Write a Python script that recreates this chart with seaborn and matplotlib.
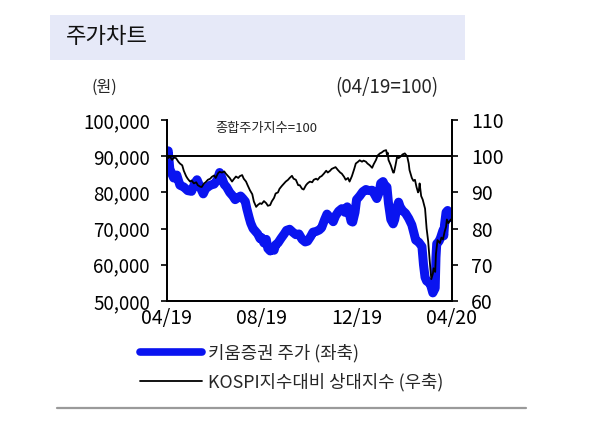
import numpy as np
import pandas as pd
import matplotlib
matplotlib.use("Agg")
import matplotlib.pyplot as plt
import matplotlib.dates as mdates
from matplotlib.lines import Line2D
from matplotlib.patches import Rectangle
import seaborn as sns

# ---------------- data ----------------
start_date = "2019-04-19"
# Kiwoom Securities share price (won) -- day offsets from start_date
kiwoom_days = [0, 2, 4, 9, 13, 17, 22, 27, 32, 36, 39, 43, 47, 50, 56, 61, 65, 68, 71, 74,
               77, 81, 85, 88, 92, 95, 98, 101, 103, 106, 108, 111, 113, 117, 120, 122, 125,
               128, 130, 133, 135, 138, 140, 143, 147, 151, 154, 158, 162, 166, 170, 174,
               178, 181, 185, 188, 192, 196, 199, 203, 206, 210, 214, 217, 221, 225, 229,
               232, 234, 237, 239, 242, 244, 248, 252, 256, 260, 264, 267, 270, 273, 275,
               278, 280, 283, 285, 288, 291, 293, 296, 298, 300, 303, 307, 311, 315, 318,
               320, 324, 328, 330, 332, 334, 337, 339, 342, 345, 346, 347, 350, 352, 355,
               356, 357, 359, 361, 364, 366]
kiwoom_price = [90500, 91500, 86500, 84000, 84800, 82000, 81500, 80500, 80300, 82500, 83500,
                81500, 79600, 81000, 82000, 82300, 83500, 85500, 84000, 82200, 81500, 80000,
                79000, 78000, 78600, 79000, 78300, 77500, 75500, 73000, 71500, 70000, 69500,
                68500, 67200, 67500, 66000, 67000, 64500, 63800, 64500, 64000, 65500, 66000,
                67300, 68500, 69500, 69800, 69000, 68300, 68500, 67000, 66300, 66500, 67800,
                69000, 69200, 69600, 70200, 72500, 74000, 73000, 71900, 73500, 74800, 75500,
                74500, 76000, 74800, 72000, 71800, 74500, 78000, 79000, 80200, 80800, 80500,
                80600, 79500, 78300, 80000, 82500, 83000, 82000, 81500, 77000, 72500, 71300,
                72500, 76000, 77300, 76000, 75000, 74200, 72800, 71000, 68500, 66800, 66200,
                65000, 60000, 56500, 55500, 55000, 54500, 52200, 53500, 62000, 65800, 66500,
                67500, 69500, 68000, 71000, 74500, 75000, 74000, 73000]

# Relative index vs KOSPI (04/19 = 100)
rel_days = [0, 2, 4, 7, 9, 12, 15, 17, 20, 22, 25, 27, 30, 32, 35, 38, 40, 43, 45, 48, 50,
            53, 56, 58, 61, 63, 66, 68, 71, 74, 76, 79, 81, 84, 86, 89, 92, 94, 97, 99, 102,
            104, 107, 110, 112, 115, 117, 120, 122, 125, 128, 130, 133, 135, 138, 140, 143,
            145, 148, 151, 153, 156, 158, 161, 163, 166, 169, 171, 174, 176, 179, 181, 184,
            187, 189, 192, 194, 197, 199, 202, 205, 207, 210, 212, 215, 217, 220, 223, 225,
            228, 230, 233, 235, 238, 241, 243, 246, 248, 251, 253, 256, 258, 261, 264, 266,
            269, 271, 274, 276, 279, 282, 283, 284, 285, 288, 291, 292, 294, 296, 298, 301,
            303, 306, 309, 311, 312, 315, 317, 319, 321, 323, 324, 325, 327, 329, 332, 334,
            336, 338, 340, 342, 343, 345, 346, 348, 351, 353, 355, 357, 359, 360, 362, 365]
rel_index = [100.8, 99.5, 100.0, 99.0, 99.6, 99.5, 98.5, 98.0, 97.5, 96.0, 94.5, 93.8, 93.0,
             93.3, 92.5, 92.8, 92.0, 91.6, 91.5, 92.5, 92.8, 93.5, 93.8, 94.3, 94.7, 94.0,
             95.3, 95.7, 95.5, 95.8, 95.2, 94.5, 94.0, 93.0, 93.6, 94.4, 94.0, 94.5, 94.8,
             93.8, 93.0, 92.0, 90.6, 89.5, 87.5, 86.0, 86.5, 87.0, 86.8, 87.6, 87.0, 86.3,
             86.5, 87.5, 88.5, 89.7, 90.0, 91.0, 91.8, 92.5, 93.0, 93.5, 94.0, 94.6, 93.8,
             93.5, 92.0, 92.0, 91.0, 90.8, 92.0, 92.5, 93.0, 92.8, 93.5, 93.8, 93.5, 94.3,
             94.5, 95.2, 96.0, 95.5, 96.0, 96.5, 96.8, 97.0, 96.2, 95.5, 95.2, 94.3, 93.5,
             94.0, 93.0, 94.5, 96.5, 98.0, 98.5, 98.9, 98.5, 98.8, 98.5, 98.0, 97.5, 96.8,
             97.8, 99.0, 100.2, 100.8, 101.0, 101.5, 101.7, 100.5, 101.0, 99.0, 97.5, 95.5,
             95.5, 97.5, 99.8, 99.5, 100.0, 100.5, 100.8, 100.0, 98.0, 96.2, 94.0, 93.2,
             93.5, 91.5, 90.0, 90.5, 92.5, 89.0, 88.0, 85.5, 80.0, 76.5, 71.0, 66.0, 67.5,
             69.0, 68.0, 73.0, 76.8, 76.0, 77.5, 77.0, 79.0, 80.5, 82.5, 81.5, 82.5]

left_ticks = [50000, 60000, 70000, 80000, 90000, 100000]
right_ticks = [60, 70, 80, 90, 100, 110]
x_tick_dates = ["2019-04-19", "2019-08-19", "2019-12-19", "2020-04-19"]
base_level = 100

title_text = "주가차트"
left_unit = "(원)"
right_unit = "(04/19=100)"
base_note = "종합주가지수=100"
label_kiwoom = "키움증권 주가 (좌축)"
label_rel = "KOSPI지수대비 상대지수 (우축)"

# ---------------- frames ----------------
t0 = pd.Timestamp(start_date)
df_k = pd.DataFrame({"date": t0 + pd.to_timedelta(kiwoom_days, unit="D"),
                     "price": kiwoom_price})
df_r = pd.DataFrame({"date": t0 + pd.to_timedelta(rel_days, unit="D"),
                     "rel": rel_index})

# ---------------- style ----------------
sns.set_theme(style="white")
plt.rcParams["font.family"] = ["Noto Sans CJK KR", "DejaVu Sans"]
plt.rcParams["axes.unicode_minus"] = False

BLUE = "#0A14F0"
fig = plt.figure(figsize=(5.91, 4.45), dpi=100)
fig.patch.set_facecolor("white")

# title bar
fig.patches.append(Rectangle((0.0846, 0.865), 0.702, 0.101, transform=fig.transFigure,
                             facecolor="#E6E9F8", edgecolor="none", zorder=0))
fig.text(0.111, 0.917, title_text, fontsize=16, va="center", ha="left", color="#111111")

ax = fig.add_axes([0.282, 0.324, 0.482, 0.406])
ax2 = ax.twinx()

sns.lineplot(data=df_k, x="date", y="price", ax=ax, color=BLUE, linewidth=6.5,
             solid_capstyle="round", solid_joinstyle="round", legend=False)
sns.lineplot(data=df_r, x="date", y="rel", ax=ax2, color="black", linewidth=1.3,
             legend=False)
ax2.axhline(base_level, color="black", linewidth=1.4, zorder=1)

ax.set_ylim(left_ticks[0], left_ticks[-1])
ax2.set_ylim(right_ticks[0], right_ticks[-1])
ax.set_xlim(t0, pd.Timestamp(x_tick_dates[-1]))

ax.set_yticks(left_ticks)
ax.set_yticklabels([f"{v:,}" for v in left_ticks], fontsize=13.5)
ax2.set_yticks(right_ticks)
ax2.set_yticklabels([str(v) for v in right_ticks], fontsize=14)
ax.set_xticks(pd.to_datetime(x_tick_dates))
ax.xaxis.set_major_formatter(mdates.DateFormatter("%m/%y"))
for lbl in ax.get_xticklabels():
    lbl.set_fontsize(14)

ax.set_xlabel("")
ax.set_ylabel("")
ax2.set_ylabel("")

for a in (ax, ax2):
    for s in ("left", "right", "bottom"):
        a.spines[s].set_visible(True)
        a.spines[s].set_color("black")
        a.spines[s].set_linewidth(1.3)
    a.spines["top"].set_visible(False)
    a.grid(False)
ax.patch.set_alpha(0)

ax.tick_params(axis="y", direction="out", length=4, width=1.2, pad=8, colors="black")
ax.tick_params(axis="x", direction="out", length=4, width=1.2, pad=1, colors="black")
ax2.tick_params(axis="y", direction="out", length=4, width=1.2, pad=10, colors="black")

fig.text(0.177, 0.804, left_unit, fontsize=11.5, ha="center", va="center")
fig.text(0.741, 0.804, right_unit, fontsize=13.5, ha="right", va="center")
ax.text(0.17, 0.955, base_note, transform=ax.transAxes, fontsize=9.5,
        ha="left", va="center")

handles = [Line2D([], [], color=BLUE, linewidth=5.5, solid_capstyle="round"),
           Line2D([], [], color="black", linewidth=1.3)]
fig.legend(handles, [label_kiwoom, label_rel], loc="upper left",
           bbox_to_anchor=(0.222, 0.248), frameon=False, fontsize=12.8,
           handlelength=3.5, handletextpad=0.3, labelspacing=0.6, borderpad=0)

fig.add_artist(Line2D([0.0965, 0.89], [0.083, 0.083], transform=fig.transFigure,
                      color="#9A9A9A", linewidth=1.6))

fig.savefig("out.png", dpi=100, facecolor="white")
